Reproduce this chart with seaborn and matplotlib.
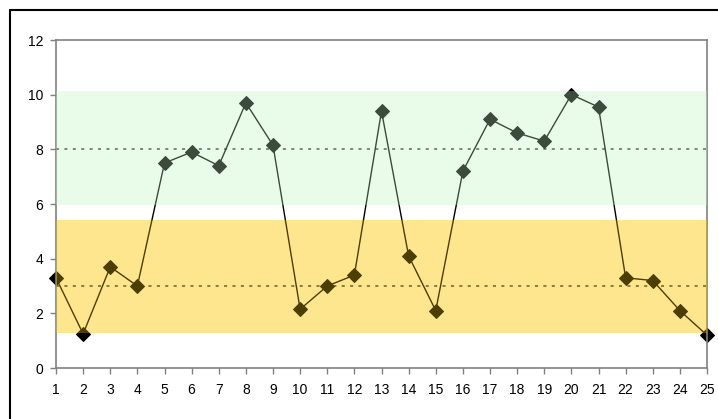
import matplotlib
matplotlib.use("Agg")
import matplotlib.pyplot as plt
import seaborn as sns
import pandas as pd
from matplotlib.lines import Line2D

# ---- data ----
samples = list(range(1, 26))
values = [3.3, 1.25, 3.7, 3.0, 7.5, 7.9, 7.4, 9.7, 8.15, 2.15,
          3.0, 3.4, 9.4, 4.1, 2.1, 7.2, 9.1, 8.6, 8.3, 10.0,
          9.55, 3.3, 3.2, 2.1, 1.2]
green_band = (5.95, 10.13)
yellow_band = (1.28, 5.42)
ref_lines = [8, 3]
y_ticks = [0, 2, 4, 6, 8, 10, 12]

df = pd.DataFrame({"sample": samples, "value": values})

sns.set_theme(style="white")
plt.rcParams["font.family"] = ["Liberation Sans", "DejaVu Sans"]

fig = plt.figure(figsize=(7.18, 4.19), dpi=100)
ax = fig.add_axes([56 / 718, 1 - 368 / 419, (707 - 56) / 718, (368 - 40) / 419])

# underlay bands
ax.axhspan(*green_band, color=(248 / 255, 253 / 255, 249 / 255), lw=0, zorder=0.5)
ax.axhspan(*yellow_band, color=(254 / 255, 240 / 255, 205 / 255), lw=0, zorder=0.5)

for r in ref_lines:
    ax.axhline(r, color="#303030", lw=1.1, ls=(0, (2, 3.5)), zorder=1)

sns.lineplot(data=df, x="sample", y="value", ax=ax, color="black", lw=1.0,
             marker="D", markersize=7.5, markerfacecolor="black",
             markeredgecolor="black", zorder=2, clip_on=False)

# translucent overlay bands (tint the markers and line)
ax.axhspan(*green_band, color=(200 / 255, 250 / 255, 200 / 255), alpha=0.3, lw=0, zorder=3)
ax.axhspan(*yellow_band, color=(1.0, 207 / 255, 0.0), alpha=0.3, lw=0, zorder=3)

ax.set_xlim(1, 25)
ax.set_ylim(0, 12)
ax.set_xticks(samples)
ax.set_xticklabels([str(s) for s in samples])
ax.set_yticks(y_ticks)
ax.set_yticklabels([str(t) for t in y_ticks])
ax.set_xlabel("")
ax.set_ylabel("")

for side in ["left", "bottom", "top", "right"]:
    ax.spines[side].set_color("#808080")
    ax.spines[side].set_linewidth(1.2)
ax.tick_params(axis="both", which="both", direction="out", length=4, width=1,
               color="#808080", labelsize=10, labelcolor="black")
ax.tick_params(axis="x", pad=7)
ax.tick_params(axis="y", pad=5)
ax.tick_params(left=True, bottom=True)

# outer chart frame (left and top edges visible)
fig.add_artist(Line2D([9.5 / 718, 9.5 / 718], [0, 1 - 10 / 419], color="black", lw=1.5,
                      transform=fig.transFigure))
fig.add_artist(Line2D([9.5 / 718, 1], [1 - 10 / 419, 1 - 10 / 419], color="black", lw=1.5,
                      transform=fig.transFigure))

fig.savefig("out.png", dpi=100)
